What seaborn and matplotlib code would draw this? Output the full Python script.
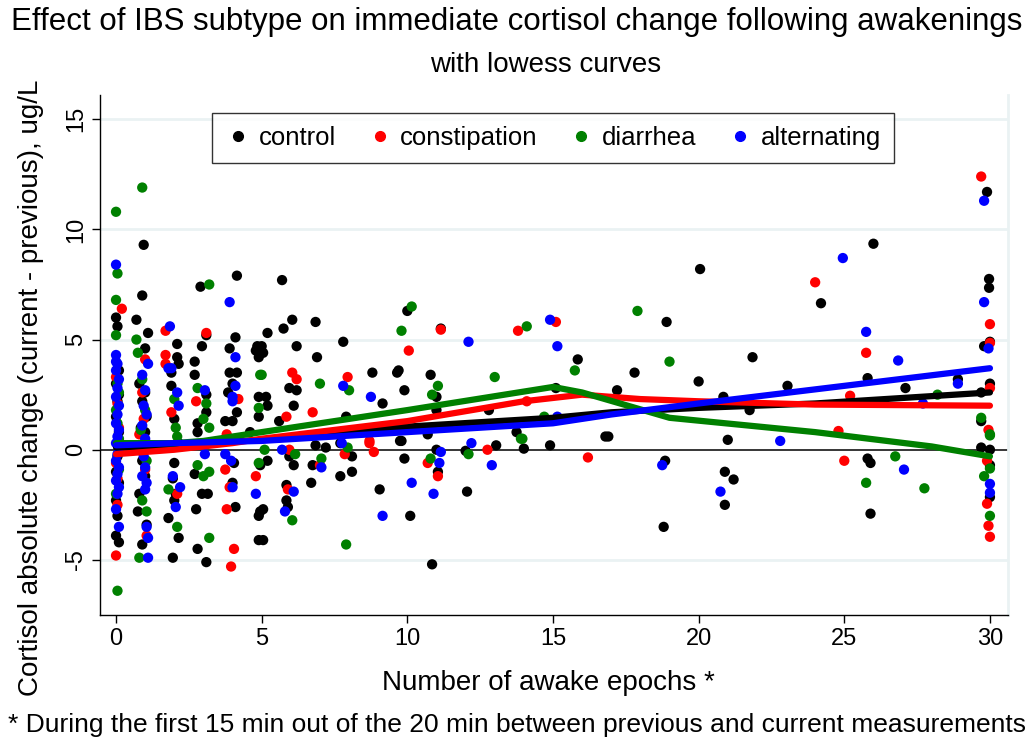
import numpy as np
import pandas as pd
import seaborn as sns
import matplotlib.pyplot as plt

# ---- scatter data ----
ctrl_x = [0.0, 0.05, 0.1, 0.0, 0.1, 0.05, 0.0, 0.1, 0.05, 0.0, 0.1, 0.0, 0.05, 0.0, 0.1,
          0.95, 0.9, 0.7, 1.1, 1.0, 0.8, 1.0, 0.9, 1.05, 0.85, 1.0, 0.9, 1.0, 0.8, 0.75, 1.05, 0.9,
          2.1, 2.1, 2.15, 1.9, 1.9, 2.0, 2.15, 2.0, 1.95, 2.0, 1.8, 2.15, 1.95, 2.05,
          2.9, 2.95, 2.7, 2.7, 3.1, 3.1, 3.1, 2.8, 2.8, 2.75, 2.95, 3.15, 2.7, 3.1, 2.8,
          4.15, 4.1, 3.9, 4.8, 4.85, 4.9, 3.9, 4.15, 4.0, 3.85, 4.15, 4.9, 4.9, 3.75, 4.0, 4.6,
          4.1, 4.0, 4.05, 4.95, 4.9, 4.95, 4.9,
          5.7, 6.05, 5.75, 5.2, 6.85, 7.8, 6.2, 6.9, 5.0, 5.05, 8.8, 9.65, 5.95, 6.2, 9.15,
          5.15, 5.2, 6.1, 5.6, 7.9, 5.05, 5.9, 5.85, 5.05, 5.85, 6.7, 9.05, 7.7, 8.1, 6.75,
          6.1, 5.95, 5.2, 7.2, 6.85, 7.7, 8.1, 9.75,
          10.0, 11.15, 15.85, 9.7, 10.8, 9.9, 11.0, 11.0, 12.8, 15.1, 13.75, 10.7, 9.8, 13.05,
          14.9, 16.8, 10.85, 10.1, 12.05, 11.05, 9.9, 11.0, 12.0, 14.0,
          20.05, 18.9, 21.85, 17.8, 20.0, 17.2, 23.05, 20.85, 21.75, 16.9, 21.0,
          18.85, 20.9, 21.2, 20.9, 18.8,
          29.9, 26.0, 24.2, 29.97, 29.97, 30.0, 29.8, 25.8, 28.9, 27.1, 30.0, 29.7, 29.7,
          25.9, 25.8, 25.9, 30.0, 29.7, 30.0, 30.0]
ctrl_y = [6.0, 5.6, 3.6, 3.0, 2.5, 2.2, 1.5, 0.8, -0.3, -1.0, -1.5, -2.3, -3.0, -3.9, -4.2,
          9.3, 7.0, 5.9, 5.3, 4.6, 3.0, 2.6, 2.2, 1.5, 1.0, 0.8, -0.5, -1.2, -2.0, -2.8, -3.4, -4.3,
          4.8, 4.2, 3.9, 3.5, 2.9, 1.4, 0.3, -0.6, -1.3, -2.3, -3.1, -4.0, -4.9, -2.0,
          7.4, 4.7, 4.0, 3.4, 5.2, 2.5, 1.7, 1.2, 0.8, -2.7, -2.0, -2.0, -1.1, -5.1, -4.5,
          7.9, 5.1, 4.6, 4.5, 4.7, 4.2, 3.5, 3.5, 3.0, 2.6, 1.7, 2.4, 1.5, 1.3, 1.3, 0.8,
          -2.6, -1.5, -0.6, -0.7, -3.0, -2.8, -4.1,
          7.7, 5.9, 5.5, 5.3, 5.8, 4.9, 4.7, 4.2, 4.7, 4.4, 3.5, 3.5, 2.8, 2.7, 2.1,
          2.4, 2.0, 2.0, 1.3, 1.5, -4.1, -2.6, -2.3, -2.7, -1.6, -1.5, -1.8, -1.2, -1.0, -0.7,
          -0.7, -0.3, -0.5, 0.1, 0.2, 0.3, -0.3, 0.4,
          6.3, 5.5, 4.1, 3.6, 3.4, 2.7, 2.4, 1.8, 1.8, 2.8, 0.8, 0.7, 0.4, 0.2,
          0.2, 0.6, -5.2, -3.0, -1.9, -1.0, -0.4, 0.0, -0.05, 0.05,
          8.2, 5.8, 4.2, 3.5, 3.1, 2.7, 2.9, 2.4, 1.8, 0.6, 0.45,
          -0.5, -1.0, -1.35, -2.5, -3.5,
          11.7, 9.35, 6.65, 7.75, 7.35, 4.9, 4.7, 3.25, 3.2, 2.8, 3.0, 2.6, 1.3,
          -2.9, -0.4, -0.6, -2.15, 0.1, 0.0, -0.7]

cons_x = [0.2, 0.0, 0.05, 0.1, 0.0, 0.05, 0.0, 0.1, 0.05,
          1.0, 0.9, 0.8, 1.0, 1.05, 0.95,
          1.7, 1.7, 1.7, 2.1, 1.9,
          3.1, 2.75, 4.2, 3.8, 3.95, 4.05, 3.8, 3.9, 4.8, 3.75,
          6.05, 6.2, 7.95, 6.75, 5.85, 8.7, 5.9, 7.0, 5.95, 7.85, 8.7, 8.85,
          11.15, 13.8, 15.1, 10.05, 14.1, 11.05, 10.7, 12.75, 16.2,
          29.7, 24.0, 30.0, 25.75, 30.0, 30.0, 25.2, 24.8, 29.95, 25.0, 30.0, 29.95, 29.9, 29.9]
cons_y = [6.4, 3.3, 2.1, 1.0, -0.6, -2.5, -4.8, 0.4, -1.3,
          4.1, 2.6, 0.7, -0.9, -3.9, 1.4,
          5.4, 4.3, 3.9, -2.0, 1.7,
          5.3, 2.2, 2.3, 0.7, -5.3, -4.5, -2.7, -1.7, -1.2, -0.9,
          3.5, 3.2, 3.3, 1.7, 1.5, 0.4, -1.8, -0.7, 0.0, -0.2, 0.3, -0.1,
          5.45, 5.4, 5.8, 4.5, 2.2, -1.2, -0.6, 0.0, -0.35,
          12.4, 7.6, 5.7, 4.4, 4.85, 2.8, 2.45, 0.85, 0.9, -0.5, -3.95, -3.45, -2.45, -0.5]

diar_x = [0.0, 0.05, 0.0, 0.0, 0.05, 0.1, 0.0, 0.05, 0.1, 0.0, 0.05, 0.1,
          0.9, 0.7, 0.75, 0.9, 1.0, 0.85, 1.05, 0.9, 1.05, 0.8,
          2.05, 2.1, 1.8, 2.1, 2.0,
          3.2, 2.8, 3.1, 3.0, 3.2, 4.95, 4.9, 3.2, 3.0, 3.2, 2.8, 4.9,
          5.0, 7.0, 8.0, 9.8, 6.05, 7.9, 7.05, 6.15, 5.1, 7.95,
          10.15, 14.1, 15.75, 13.0, 11.05, 10.85, 14.7, 13.95, 10.8, 12.1, 13.9,
          17.9, 19.0,
          28.2, 29.7, 30.0, 25.75, 27.75, 26.75, 30.0, 29.8, 30.0, 30.0]
diar_y = [10.8, 8.0, 6.8, 5.2, 3.0, 2.6, 1.8, 1.2, -0.9, -2.0, -6.4, 0.5,
          11.9, 5.0, 4.4, 3.2, 1.8, 0.9, -0.5, -2.3, -2.8, -4.9,
          1.0, 0.6, -1.8, -3.5, 2.3,
          7.5, 2.8, 2.1, 1.4, 1.0, 3.4, 1.9, -4.0, -1.2, -1.0, -0.7, -0.6,
          3.4, 3.0, 2.7, 5.4, -3.2, -4.3, -0.4, -0.2, 0.0, 0.1,
          6.5, 5.6, 3.6, 3.3, 2.9, 2.5, 1.5, 0.5, -0.4, -0.2, 0.5,
          6.3, 4.0,
          2.5, 1.45, 0.7, -1.5, -1.75, -0.3, -3.0, -1.2, -0.85, 0.65]

alt_x = [0.0, 0.0, 0.05, 0.0, 0.1, 0.05, 0.0, 0.1, 0.05, 0.0, 0.1, 0.05, 0.0, 0.1,
         0.05, 0.0, 0.1, 0.05, 0.0, 0.1, 0.05, 0.0, 0.1, 0.0,
         1.1, 0.9, 1.0, 0.95, 1.05, 0.9, 1.0, 1.1, 0.95, 1.0, 0.9, 1.05, 1.0, 1.05, 1.1, 1.1,
         1.85, 1.8, 1.9, 2.1, 2.15, 1.95, 2.2, 2.05,
         3.9, 4.1, 4.1, 3.05, 4.0, 4.0, 4.0, 3.95, 3.05, 3.75, 4.8,
         7.8, 8.75, 5.7, 6.1, 5.8, 7.05, 9.15, 7.75,
         14.9, 12.1, 15.15, 15.15, 12.2, 10.15, 10.9, 11.1, 12.9, 11.15,
         22.8, 18.75, 20.75,
         29.8, 24.95, 29.8, 25.75, 29.95, 26.85, 28.9, 27.7, 27.05, 30.0, 30.0]
alt_y = [8.4, 4.3, 3.9, 3.6, 3.2, 2.8, 2.4, 2.0, 1.6, 1.2, 0.9, 0.6, 0.3, 0.1,
         -0.2, -0.5, -0.8, -1.1, -1.4, -1.7, -2.0, -2.7, -3.5, 4.0,
         3.9, 3.4, 2.7, 2.0, 1.6, 1.1, 0.5, 0.2, -0.3, -0.8, -1.2, -1.5, -1.8, -3.5, -4.0, -4.9,
         5.6, 3.7, 3.7, 2.6, 2.0, -1.2, -1.7, -2.6,
         6.7, 4.2, 2.9, 2.7, 2.2, 2.4, -1.7, -0.5, -0.2, -0.2, -2.0,
         2.9, 2.4, 0.0, -1.9, -2.8, -0.8, -3.0, 0.3,
         5.9, 4.9, 4.7, 1.5, 0.3, -1.5, -2.0, -0.6, -0.7, -0.1,
         0.4, -0.7, -1.9,
         11.3, 8.7, 6.7, 5.35, 4.6, 4.05, 3.0, 2.1, -0.9, -1.95, -1.55]

# ---- lowess curves ----
low_ctrl_x = [0, 2, 5, 10, 15, 17, 20, 24, 30]
low_ctrl_y = [0.1, 0.2, 0.45, 1.05, 1.45, 1.7, 1.9, 2.1, 2.6]
low_cons_x = [0, 2, 4, 5, 10, 14, 16, 18, 20, 24, 30]
low_cons_y = [-0.2, 0.0, 0.3, 0.5, 1.3, 2.2, 2.5, 2.3, 2.2, 2.05, 2.0]
low_diar_x = [0, 2, 3, 5, 10, 15, 16, 19, 24, 28, 30]
low_diar_y = [0.3, 0.3, 0.4, 0.8, 1.8, 2.85, 2.6, 1.45, 0.8, 0.15, -0.3]
low_alt_x = [0, 2, 5, 10, 15, 17, 20, 25, 30]
low_alt_y = [0.2, 0.3, 0.4, 0.8, 1.2, 1.6, 2.1, 2.9, 3.7]

groups = ["control", "constipation", "diarrhea", "alternating"]
colors = ["#000000", "#ff0000", "#008000", "#0000ff"]

df = pd.concat([
    pd.DataFrame({"x": ctrl_x, "y": ctrl_y, "grp": "control"}),
    pd.DataFrame({"x": cons_x, "y": cons_y, "grp": "constipation"}),
    pd.DataFrame({"x": diar_x, "y": diar_y, "grp": "diarrhea"}),
    pd.DataFrame({"x": alt_x, "y": alt_y, "grp": "alternating"}),
], ignore_index=True)

low = pd.concat([
    pd.DataFrame({"x": low_ctrl_x, "y": low_ctrl_y, "grp": "control"}),
    pd.DataFrame({"x": low_cons_x, "y": low_cons_y, "grp": "constipation"}),
    pd.DataFrame({"x": low_diar_x, "y": low_diar_y, "grp": "diarrhea"}),
    pd.DataFrame({"x": low_alt_x, "y": low_alt_y, "grp": "alternating"}),
], ignore_index=True)

sns.set_style("white")
plt.rcParams['font.family'] = ['Liberation Sans', 'DejaVu Sans']
plt.rcParams['text.color'] = 'black'
plt.rcParams['axes.labelcolor'] = 'black'
plt.rcParams['axes.unicode_minus'] = False

fig = plt.figure(figsize=(10.36, 7.44), dpi=100)
ax = fig.add_axes([100 / 1036, 1 - 615 / 744, 908 / 1036, 520 / 744])
pal = dict(zip(groups, colors))

ax.axhline(0, color="black", lw=1.1, zorder=1)
for yv in [-5, 5, 10, 15]:
    ax.axhline(yv, color="#eaf2f3", lw=2, zorder=0)

sns.scatterplot(data=df, x="x", y="y", hue="grp", palette=pal, hue_order=groups,
                s=55, linewidth=0, ax=ax, legend=False, zorder=2)
sns.lineplot(data=low, x="x", y="y", hue="grp", palette=pal, hue_order=groups,
             lw=4.5, ax=ax, legend=False, sort=False, estimator=None, zorder=3)

ax.set_xlim(-0.55, 30.62)
ax.set_ylim(-7.5, 16.1)
ax.set_xticks([0, 5, 10, 15, 20, 25, 30])
ax.set_yticks([-5, 0, 5, 10, 15])
ax.tick_params(axis="both", which="both", direction="out", length=6, width=1,
               labelsize=17, colors="black", bottom=True, left=True)
for lab in ax.get_yticklabels():
    lab.set_rotation(90)
    lab.set_va("center")
ax.spines["top"].set_visible(False)
ax.spines["right"].set_color("#eaf2f3")
ax.spines["right"].set_linewidth(2)
for side in ["left", "bottom"]:
    ax.spines[side].set_color("black")
    ax.spines[side].set_linewidth(1)

ax.set_xlabel("Number of awake epochs *", fontsize=20)
ax.set_ylabel("Cortisol absolute change (current - previous), ug/L", fontsize=20)
ax.xaxis.set_label_coords(0.494, -0.105)
ax.yaxis.set_label_coords(-0.062, 0.437)

handles = [plt.Line2D([], [], marker="o", ls="", color=c, markersize=7) for c in colors]
leg = ax.legend(handles, groups, loc="upper center", bbox_to_anchor=(0.499, 0.965),
                ncol=4, frameon=True, fontsize=18.5, handletextpad=0.3, columnspacing=1.2,
                borderpad=0.5, borderaxespad=0, fancybox=False, handlelength=1.0)
leg.get_frame().set_edgecolor("black")
leg.get_frame().set_linewidth(1)

fig.text(517 / 1036, 1 - 22 / 744,
         "Effect of IBS subtype on immediate cortisol change following awakenings",
         ha="center", va="center", fontsize=22.5)
fig.text(546 / 1036, 1 - 65 / 744, "with lowess curves", ha="center", va="center", fontsize=20)
fig.text(8 / 1036, 1 - 725 / 744,
         "* During the first 15 min out of the 20 min between previous and current measurements",
         ha="left", va="center", fontsize=19)

fig.savefig("out.png", dpi=100)
